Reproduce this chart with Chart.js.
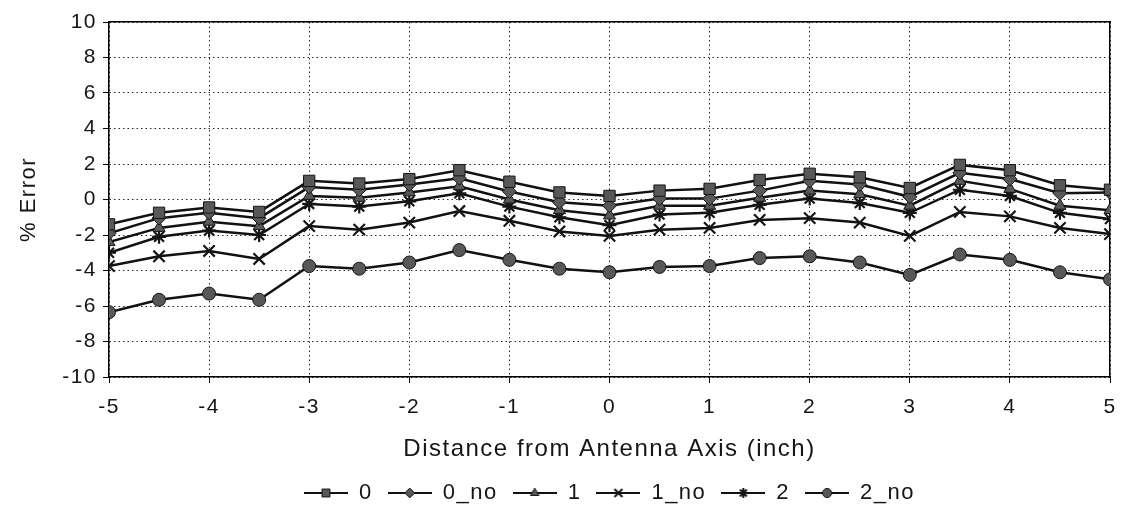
<!DOCTYPE html>
<html>
<head>
<meta charset="utf-8">
<script src="https://cdn.jsdelivr.net/npm/chart.js@4.4.1/dist/chart.umd.min.js"></script>
<style>
  html, body { margin: 0; background: #fff; }
  #wrap { width: 1123px; height: 511px; position: relative; }
</style>
</head>
<body>
<div id="wrap"><canvas id="c"></canvas></div>
<script>
// distance from antenna axis (inch)
const DIST = [-5, -4.5, -4, -3.5, -3, -2.5, -2, -1.5, -1, -0.5, 0, 0.5, 1, 1.5, 2, 2.5, 3, 3.5, 4, 4.5, 5];

// % error per series
const ERR_0    = [-1.4, -0.75, -0.45, -0.7, 1.05, 0.9, 1.15, 1.65, 1.0, 0.4, 0.2, 0.5, 0.6, 1.1, 1.45, 1.25, 0.65, 1.95, 1.65, 0.8, 0.55];
const ERR_0_NO = [-1.9, -1.05, -0.75, -1.05, 0.7, 0.55, 0.85, 1.2, 0.45, -0.15, -0.35, 0.05, 0.05, 0.5, 1.05, 0.85, 0.15, 1.5, 1.15, 0.35, 0.4];
const ERR_1    = [-2.4, -1.6, -1.25, -1.5, 0.2, 0.1, 0.4, 0.75, 0.0, -0.6, -0.9, -0.35, -0.35, 0.1, 0.5, 0.3, -0.35, 1.05, 0.6, -0.35, -0.6];
const ERR_1_NO = [-3.75, -3.2, -2.9, -3.35, -1.5, -1.7, -1.3, -0.65, -1.2, -1.8, -2.05, -1.7, -1.6, -1.15, -1.05, -1.3, -2.05, -0.7, -0.95, -1.6, -1.95];
const ERR_2    = [-3.0, -2.1, -1.75, -2.0, -0.25, -0.4, -0.1, 0.35, -0.4, -1.0, -1.45, -0.85, -0.75, -0.3, 0.05, -0.2, -0.75, 0.55, 0.2, -0.75, -1.1];
const ERR_2_NO = [-6.35, -5.65, -5.3, -5.65, -3.75, -3.9, -3.55, -2.85, -3.4, -3.9, -4.1, -3.8, -3.75, -3.3, -3.2, -3.55, -4.25, -3.1, -3.4, -4.1, -4.5];

const NAMES  = ['0', '0_no', '1', '1_no', '2', '2_no'];
const SERIES = [ERR_0, ERR_0_NO, ERR_1, ERR_1_NO, ERR_2, ERR_2_NO];

const Y_TICKS = [-10, -8, -6, -4, -2, 0, 2, 4, 6, 8, 10];
const X_TICKS = [-5, -4, -3, -2, -1, 0, 1, 2, 3, 4, 5];

const MARKERS = ['rect', 'rectRot', 'triangle', 'crossRot', 'star', 'circle'];
const RADII   = [8, 7, 7, 8, 7, 6.5];
const FONT = "'Liberation Sans', Arial, sans-serif";
const INK = '#151515';
const FILL = '#585858';
const isLineMark = m => m === 'crossRot' || m === 'star';

// little line+marker pictures for the legend
function legendIcon(style, r) {
    const cv = document.createElement('canvas');
    cv.width = 44; cv.height = 16;
    const g = cv.getContext('2d');
    g.strokeStyle = '#111'; g.lineWidth = 2;
    g.beginPath(); g.moveTo(0, 8); g.lineTo(44, 8); g.stroke();
    g.fillStyle = FILL; g.strokeStyle = INK; g.lineWidth = isLineMark(style) ? 2 : 1;
    Chart.helpers.drawPoint(g, {pointStyle: style, radius: r, rotation: 0, borderWidth: g.lineWidth}, 22, 8);
    return cv;
}
const ICONS = MARKERS.map((m, i) => legendIcon(m, RADII[i] * 0.7));

const dotted = {
    color: '#2a2a2a', lineWidth: 1,
    tickColor: '#000', tickLength: 6, tickWidth: 1, tickBorderDash: []
};

// scanned Excel text runs wide
const spacing = {
    id: 'spacing',
    beforeUpdate(chart) { chart.ctx.letterSpacing = '1.5px'; },
    beforeLayout(chart) { chart.ctx.letterSpacing = '1.5px'; },
    beforeDraw(chart) { chart.ctx.letterSpacing = '1.5px'; }
};

// put the legend under the plot area, centred on it
const legendPlace = {
    id: 'legendPlace',
    afterLayout(chart) {
        const lg = chart.legend, a = chart.chartArea;
        const h = lg.bottom - lg.top;
        lg.left = a.left; lg.right = a.right;
        lg.top = 467; lg.bottom = 467 + h;
    }
};

new Chart(document.getElementById('c'), {
    type: 'line',
    data: {
        datasets: SERIES.map((vals, i) => ({
            label: NAMES[i],
            data: vals.map((v, k) => ({x: DIST[k], y: v})),
            borderColor: '#111',
            borderWidth: 2.5,
            pointStyle: MARKERS[i],
            pointRadius: RADII[i],
            pointBackgroundColor: FILL,
            pointBorderColor: INK,
            pointBorderWidth: isLineMark(MARKERS[i]) ? 2.2 : 1,
            tension: 0
        }))
    },
    plugins: [spacing, legendPlace],
    options: {
        responsive: true,
        maintainAspectRatio: false,
        animation: false,
        events: [],
        layout: { padding: { top: 22, right: 13, left: 0, bottom: 0 } },
        scales: {
            x: {
                type: 'linear', min: -5, max: 5,
                afterBuildTicks: s => { s.ticks = X_TICKS.map(v => ({value: v})); },
                afterFit: s => {
                    s.height = 134 - (s.chart.legend ? s.chart.legend.height : 0);
                    s.paddingLeft = 0; s.paddingRight = 0;
                },
                grid: dotted,
                border: { display: true, color: '#000', width: 1.5, dash: [1.5, 3] },
                ticks: { color: INK, font: { family: FONT, size: 21 }, padding: 12, maxRotation: 0 },
                title: { display: true, text: 'Distance from Antenna Axis (inch)', color: INK,
                         font: { family: FONT, size: 24 }, padding: { top: 4, bottom: 0 } }
            },
            y: {
                type: 'linear', min: -10, max: 10,
                afterBuildTicks: s => { s.ticks = Y_TICKS.map(v => ({value: v})); },
                afterFit: s => { s.width = 109; },
                grid: dotted,
                border: { display: true, color: '#000', width: 1.5, dash: [1.5, 3] },
                ticks: { color: INK, font: { family: FONT, size: 21 }, padding: 6 },
                title: { display: true, text: '% Error', color: INK,
                         font: { family: FONT, size: 22 }, padding: { top: 16, bottom: 0 } }
            },
            xTop: {
                type: 'linear', position: 'top', min: -5, max: 5,
                grid: { drawOnChartArea: false, drawTicks: false },
                ticks: { display: false },
                border: { display: true, color: '#000', width: 1.5 }
            },
            yRight: {
                type: 'linear', position: 'right', min: -10, max: 10,
                grid: { drawOnChartArea: false, drawTicks: false },
                ticks: { display: false },
                border: { display: true, color: '#000', width: 1.5 }
            }
        },
        plugins: {
            tooltip: { enabled: false },
            legend: {
                position: 'bottom',
                labels: {
                    usePointStyle: true,
                    pointStyleWidth: 44,
                    boxHeight: 16,
                    padding: 15,
                    color: INK,
                    font: { family: FONT, size: 22 },
                    generateLabels: chart => chart.data.datasets.map((ds, i) => ({
                        text: ds.label, pointStyle: ICONS[i], datasetIndex: i,
                        fillStyle: FILL, strokeStyle: INK, lineWidth: 0, hidden: false, fontColor: INK
                    }))
                }
            }
        }
    }
});
</script>
</body>
</html>
